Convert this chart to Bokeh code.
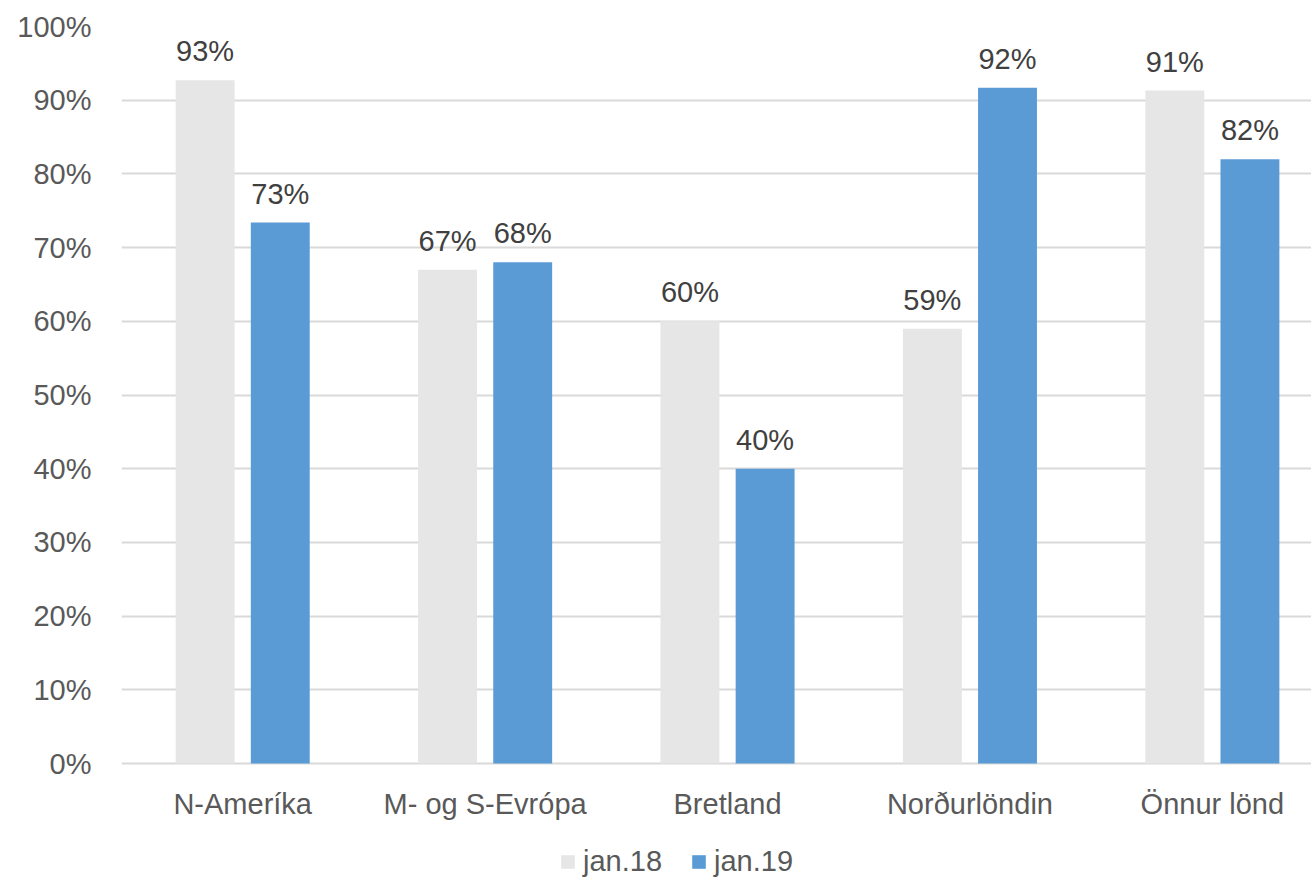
from bokeh.plotting import figure
from bokeh.models import ColumnDataSource, Range1d, LabelSet, Legend, LegendItem, FixedTicker, CustomJSTickFormatter
from bokeh.transform import dodge
from bokeh.core.properties import value
from bokeh.embed import file_html
from bokeh.resources import INLINE

categories = ["N-Ameríka", "M- og S-Evrópa", "Bretland", "Norðurlöndin", "Önnur lönd"]
jan18 = [92.7, 67.0, 60.0, 59.0, 91.3]
jan19 = [73.4, 68.0, 40.0, 91.7, 82.0]
series_names = ["jan.18", "jan.19"]
y_ticks = [0, 10, 20, 30, 40, 50, 60, 70, 80, 90, 100]

FONT = "Liberation Sans"
FS = "29px"
pos = [i + 0.5 for i in range(len(categories))]
src = ColumnDataSource(dict(
    x=pos, a=jan18, b=jan19, zero=[0] * len(categories), cat=categories,
    la=[f"{round(v)}%" for v in jan18],
    lb=[f"{round(v)}%" for v in jan19],
))

# frame extends below the 0 line to hold category labels and legend
p = figure(x_range=Range1d(0, 4.909), y_range=Range1d(-15.6, 100),
           width=1311, height=878, output_backend="svg", toolbar_location=None,
           min_border_left=121, min_border_right=0, min_border_top=26, min_border_bottom=0)
p.outline_line_color = None

r1 = p.vbar(x=dodge("x", -0.155), top="a", width=0.243, source=src,
            fill_color="#e6e6e6", line_color=None)
r2 = p.vbar(x=dodge("x", 0.155), top="b", width=0.243, source=src,
            fill_color="#5b9bd5", line_color=None)

for col, lab, off in (("a", "la", -0.155), ("b", "lb", 0.155)):
    p.add_layout(LabelSet(x=dodge("x", off), y=col, text=lab, source=src,
                          text_align="center", text_baseline="alphabetic", y_offset=19,
                          text_font=value(FONT), text_font_size=FS, text_color="#404040"))

# category labels under the 0 line
p.add_layout(LabelSet(x="x", y="zero", text="cat", source=src,
                      text_align="center", text_baseline="alphabetic", y_offset=-50,
                      text_font=value(FONT), text_font_size=FS, text_color="#595959"))

p.yaxis.ticker = FixedTicker(ticks=y_ticks)
p.yaxis.formatter = CustomJSTickFormatter(code="return tick.toFixed(0) + '%';")
p.yaxis.axis_line_color = None
p.yaxis.major_tick_line_color = None
p.yaxis.minor_tick_line_color = None
p.yaxis.major_label_standoff = 24
p.yaxis.major_label_text_font = FONT
p.yaxis.major_label_text_font_size = FS
p.yaxis.major_label_text_color = "#595959"

p.xaxis.visible = False

p.xgrid.grid_line_color = None
p.ygrid.grid_line_color = "#d9d9d9"
p.ygrid.grid_line_width = 2

legend = Legend(items=[LegendItem(label=series_names[0], renderers=[r1]),
                       LegendItem(label=series_names[1], renderers=[r2])],
                orientation="horizontal", location=(438, 0),
                label_text_font=FONT, label_text_font_size=FS, label_text_color="#595959",
                glyph_width=17, glyph_height=17, spacing=28, label_standoff=7,
                border_line_color=None, background_fill_alpha=0, margin=0, padding=0)
p.add_layout(legend, "center")

open("out.html", "w").write(file_html(p, INLINE))
